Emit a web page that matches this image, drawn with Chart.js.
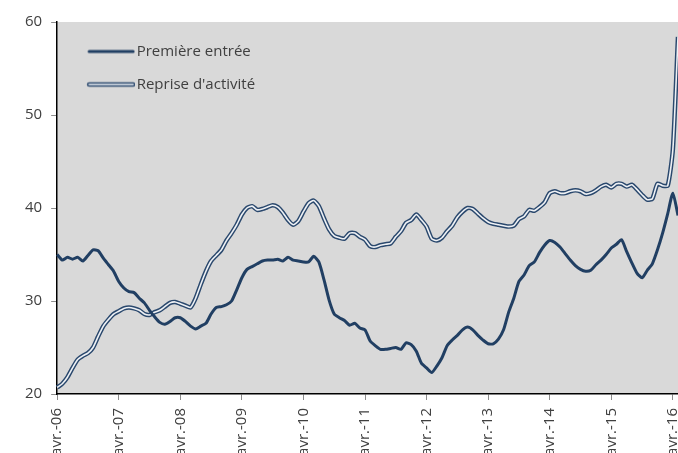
<!DOCTYPE html>
<html>
<head>
<meta charset="utf-8">
<script src="https://cdn.jsdelivr.net/npm/chart.js@4"></script>
<style>
  body { margin: 0; background: #fff; }
  #wrap { width: 678px; height: 453px; position: relative; }
</style>
</head>
<body>
<div id="wrap"><canvas id="myChart"></canvas></div>
<script>
// mois abrégés, la série commence en avril 2006
const moisAbr = ['janv.', 'févr.', 'mars', 'avr.', 'mai', 'juin', 'juil.', 'août', 'sept.', 'oct.', 'nov.', 'déc.'];
const nbMois = 122;

const premiereEntree = [
  35.0, 34.4, 34.7, 34.5, 34.7, 34.3, 34.9, 35.5, 35.4, 34.6, 33.9, 33.2,
  32.1, 31.4, 31.0, 30.9, 30.3, 29.8, 29.0, 28.3, 27.7, 27.5, 27.8, 28.2,
  28.2, 27.8, 27.3, 27.0, 27.3, 27.6, 28.6, 29.3, 29.4, 29.6, 30.0, 31.2,
  32.5, 33.4, 33.7, 34.0, 34.3, 34.4, 34.4, 34.5, 34.3, 34.7, 34.4, 34.3,
  34.2, 34.2, 34.8, 34.2, 32.3, 30.1, 28.6, 28.2, 27.9, 27.4, 27.6, 27.1,
  26.9, 25.7, 25.2, 24.8, 24.8, 24.9, 25.0, 24.8, 25.5, 25.3, 24.6, 23.3,
  22.8, 22.3, 23.0, 23.9, 25.2, 25.8, 26.3, 26.9, 27.2, 26.9, 26.3, 25.8,
  25.4, 25.4, 25.9, 26.9, 28.8, 30.3, 32.1, 32.8, 33.8, 34.2, 35.2, 36.0,
  36.5, 36.3, 35.8, 35.1, 34.4, 33.8, 33.4, 33.2, 33.3, 33.9, 34.4, 35.0,
  35.7, 36.1, 36.6, 35.3, 34.1, 33.0, 32.5, 33.3, 34.0, 35.5, 37.3, 39.4,
  41.6, 39.2
];

const repriseActivite = [
  20.7, 21.1, 21.8, 22.8, 23.7, 24.1, 24.4, 25.0, 26.2, 27.3, 28.0, 28.6,
  28.9, 29.2, 29.3, 29.2, 29.0, 28.6, 28.5, 28.8, 29.0, 29.4, 29.8, 29.9,
  29.7, 29.5, 29.3, 30.3, 31.8, 33.2, 34.3, 34.9, 35.5, 36.5, 37.3, 38.2,
  39.3, 40.0, 40.2, 39.8, 39.9, 40.1, 40.3, 40.1, 39.5, 38.7, 38.2, 38.6,
  39.6, 40.5, 40.8, 40.2, 38.9, 37.7, 37.0, 36.8, 36.7, 37.3, 37.3, 36.9,
  36.6, 35.9, 35.8, 36.0, 36.1, 36.2, 36.9, 37.5, 38.4, 38.7, 39.3, 38.7,
  38.0, 36.7, 36.5, 36.8, 37.5, 38.1, 39.0, 39.6, 40.0, 39.9, 39.4, 38.9,
  38.5, 38.3, 38.2, 38.1, 38.0, 38.1, 38.8, 39.1, 39.8, 39.7, 40.1, 40.6,
  41.6, 41.8, 41.6, 41.6, 41.8, 41.9, 41.8, 41.5, 41.6, 41.9, 42.3, 42.5,
  42.2, 42.6, 42.6, 42.3, 42.5, 42.0, 41.4, 40.9, 41.0, 42.6, 42.4, 42.4,
  46.3, 58.4
];

const yTicks = [20, 30, 40, 50, 60];

const labels = [];
for (let i = 0; i < nbMois; i++) {
  const m = (3 + i) % 12;
  const an = 6 + Math.floor((3 + i) / 12);
  labels.push(moisAbr[m] + '-' + String(an).padStart(2, '0'));
}

const bleu = '#213f63';
const police = "'Open Sans', 'Noto Sans', sans-serif";

// petits dessins pour la légende
function iconeLigne(double) {
  const c = document.createElement('canvas');
  c.width = 66; c.height = 8;
  const g = c.getContext('2d');
  g.lineCap = 'round';
  g.strokeStyle = double ? '#2a486d' : bleu;
  g.lineWidth = double ? 4.5 : 3;
  g.beginPath(); g.moveTo(20, 4); g.lineTo(64, 4); g.stroke();
  if (double) {
    g.strokeStyle = '#eef1f5';
    g.lineWidth = 1.6;
    g.beginPath(); g.moveTo(20, 4); g.lineTo(64, 4); g.stroke();
  }
  return c;
}

const fondGris = {
  id: 'fondGris',
  beforeDraw(chart) {
    const { ctx, chartArea: a } = chart;
    ctx.save();
    ctx.fillStyle = '#d9d9d9';
    ctx.fillRect(a.left, a.top, a.right - a.left, a.bottom - a.top);
    ctx.restore();
  }
};

const ctx = document.getElementById('myChart');

new Chart(ctx, {
  type: 'line',
  data: {
    labels: labels,
    datasets: [
      {
        label: 'Première entrée',
        data: premiereEntree,
        borderColor: bleu,
        borderWidth: 3,
        pointRadius: 0,
        tension: 0.2,
        order: 0
      },
      {
        label: 'Reprise d\'activité',
        data: repriseActivite,
        borderColor: '#2a486d',
        borderWidth: 4.5,
        pointRadius: 0,
        tension: 0.2,
        order: 2
      },
      {
        label: 'interieur',
        data: repriseActivite,
        borderColor: '#eef1f5',
        borderWidth: 1.6,
        pointRadius: 0,
        tension: 0.2,
        order: 1
      }
    ]
  },
  options: {
    responsive: true,
    maintainAspectRatio: false,
    animation: false,
    layout: { padding: { top: 22, left: 16, right: 0, bottom: 0 } },
    plugins: {
      tooltip: { enabled: false },
      legend: {
        position: 'chartArea',
        align: 'start',
        title: { display: true, text: '', padding: 0, font: { size: 4, lineHeight: '26px' } },
        labels: {
          usePointStyle: true,
          pointStyleWidth: 54,
          padding: 18,
          color: '#404040',
          font: { family: police, size: 15 },
          generateLabels() {
            return [
              { text: 'Première entrée', pointStyle: iconeLigne(false), fontColor: '#404040', lineWidth: 0, hidden: false, datasetIndex: 0 },
              { text: 'Reprise d\'activité', pointStyle: iconeLigne(true), fontColor: '#404040', lineWidth: 0, hidden: false, datasetIndex: 1 }
            ];
          }
        }
      }
    },
    scales: {
      x: {
        afterFit: axis => { axis.paddingLeft = 0; axis.paddingRight = 0; axis.height = 59; },
        grid: {
          drawOnChartArea: false,
          tickLength: 6,
          color: c => (c.index % 12 === 0 ? '#8c8c8c' : 'transparent')
        },
        border: { color: '#000', width: 1.5 },
        ticks: {
          autoSkip: false,
          minRotation: 90,
          maxRotation: 90,
          padding: 8,
          color: '#404040',
          font: { family: police, size: 15 },
          callback: (v, i) => (i % 12 === 0 ? labels[i] : '')
        }
      },
      y: {
        min: 20,
        max: 60,
        afterBuildTicks: axis => { axis.ticks = yTicks.map(v => ({ value: v })); },
        grid: { drawOnChartArea: false, tickLength: 6, color: '#8c8c8c' },
        border: { color: '#000', width: 1.5 },
        ticks: {
          padding: 9,
          color: '#404040',
          font: { family: police, size: 15 }
        }
      }
    }
  },
  plugins: [fondGris]
});
</script>
</body>
</html>
